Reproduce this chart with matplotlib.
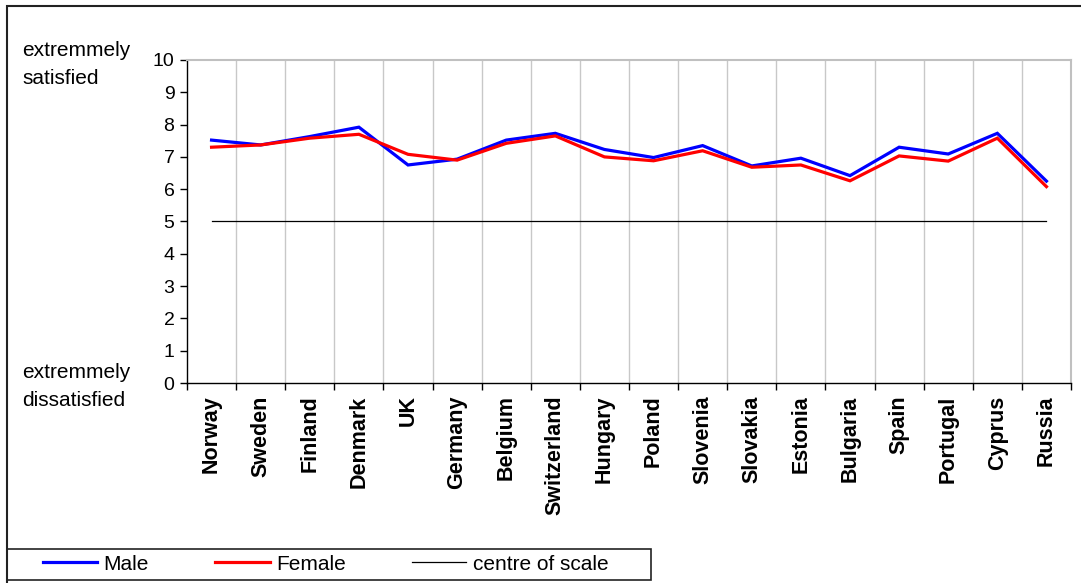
import numpy as np
import matplotlib.pyplot as plt
from matplotlib.patches import Rectangle
from matplotlib.lines import Line2D

plt.rcParams['font.family'] = ['Liberation Sans', 'DejaVu Sans']

# Life satisfaction by country (0-10 scale)
countries = ['Norway', 'Sweden', 'Finland', 'Denmark', 'UK', 'Germany', 'Belgium',
             'Switzerland', 'Hungary', 'Poland', 'Slovenia', 'Slovakia', 'Estonia',
             'Bulgaria', 'Spain', 'Portugal', 'Cyprus', 'Russia']
male = [7.52, 7.37, 7.63, 7.92, 6.75, 6.93, 7.52, 7.73, 7.23, 6.98, 7.35, 6.72,
        6.96, 6.42, 7.30, 7.09, 7.73, 6.25]
female = [7.30, 7.37, 7.58, 7.70, 7.08, 6.90, 7.42, 7.65, 7.00, 6.88, 7.19, 6.68,
          6.75, 6.26, 7.03, 6.87, 7.58, 6.08]
centre = [5] * len(countries)

W, H = 1081, 583
fig = plt.figure(figsize=(W / 100, H / 100), dpi=100)
ax = fig.add_axes([187 / W, 1 - 383 / H, (1071 - 187) / W, (383 - 60) / H])

x = np.arange(len(countries))
ax.plot(x, male, color='#0000ff', lw=2.3, solid_joinstyle='miter', zorder=4)
ax.plot(x, female, color='#ff0000', lw=2.3, solid_joinstyle='miter', zorder=5)
ax.plot(x, centre, color='black', lw=0.9, zorder=3)

ax.set_xlim(-0.5, len(countries) - 0.5)
ax.set_ylim(0, 10)
ax.set_yticks(range(0, 11))
ax.tick_params(axis='y', direction='out', length=5, width=1, labelsize=14, pad=4)

# category boundaries carry the ticks and the light vertical grid
bounds = np.arange(-0.5, len(countries) + 0.5, 1)
ax.set_xticks(bounds)
ax.set_xticklabels([])
ax.tick_params(axis='x', direction='out', length=5, width=1)
for b in bounds[1:]:
    ax.axvline(b, color='#c8c8c8', lw=1, zorder=1)
for xi, name in zip(x, countries):
    ax.text(xi, -0.38, name, rotation=90, ha='center', va='top',
            fontsize=15.5, fontweight='bold')

for side in ['top', 'right']:
    ax.spines[side].set_color('#c0c0c0')
    ax.spines[side].set_linewidth(1.5)
ax.spines['left'].set_linewidth(1)
ax.spines['bottom'].set_linewidth(1)

# end labels of the scale
fig.text(22 / W, 1 - 64 / H, 'extremmely\nsatisfied', ha='left', va='center',
         fontsize=15, linespacing=1.6)
fig.text(22 / W, 1 - 386 / H, 'extremmely\ndissatisfied', ha='left', va='center',
         fontsize=15, linespacing=1.6)

# outer frame and legend box
fig.patches.append(Rectangle((7 / W, -0.01), 1.1, 1 - 6 / H + 0.01, transform=fig.transFigure,
                             fill=False, ec='#222222', lw=1.5))
fig.patches.append(Rectangle((7 / W, 1 - 580 / H), (651 - 7) / W, 31 / H,
                             transform=fig.transFigure, fill=False, ec='#222222', lw=1.2))
handles = [Line2D([], [], color='#0000ff', lw=2.3),
           Line2D([], [], color='#ff0000', lw=2.3),
           Line2D([], [], color='black', lw=0.9)]
fig.legend(handles, ['Male', 'Female', 'centre of scale'], ncol=3, frameon=False,
           loc='center left', bbox_to_anchor=(43 / W, 1 - 564 / H), fontsize=15,
           handlelength=2.6, handletextpad=0.3, columnspacing=3.2, borderpad=0,
           borderaxespad=0)

fig.savefig('out.png', dpi=100)
